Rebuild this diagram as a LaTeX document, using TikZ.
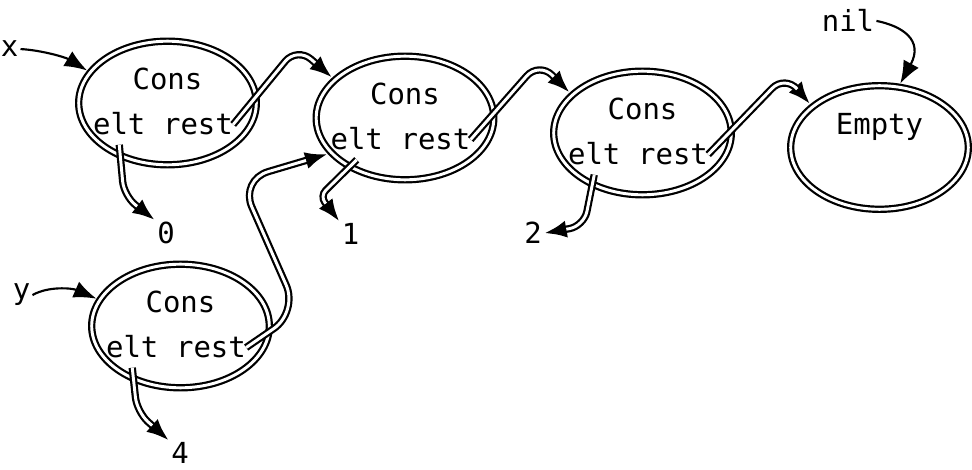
\documentclass[tikz,border=0pt]{standalone}
\usepackage{fontspec}
\setmonofont{DejaVu Sans Mono}
\usetikzlibrary{arrows.meta,shapes.geometric}
\begin{document}
\begin{tikzpicture}[x=0.75pt,y=-0.75pt,
  every node/.style={font=\ttfamily\fontsize{21.75pt}{26pt}\selectfont, inner sep=0pt},
  cell/.style={ellipse, draw, line width=1.65pt, double, double distance=2.2pt,
    minimum width=133.2pt, minimum height=92.7pt, outer sep=2.75pt},
  word/.style={anchor=base},
  eltf/.style={anchor=base, text depth=7.5pt},
  restf/.style={anchor=base, text height=15pt, text depth=0pt},
  lbl/.style={anchor=base, inner sep=1.5pt},
  ptr/.style={line width=5.5pt, rounded corners=14pt,
    -{Latex[length=17pt,width=13pt]},
    postaction={draw=white, line width=2.2pt, shorten >=17pt, -}},
  ref/.style={line width=1.6pt, -{Latex[length=17pt,width=13pt]}}]
\useasboundingbox (0,0) rectangle (972,470);
% cells
\node[cell] (A) at (167.5,103) {};
\node[cell] (B) at (405,118) {};
\node[cell] (C) at (642.5,133) {};
\node[cell] (D) at (879.5,147.5) {};
\node[cell] (E) at (180.5,326) {};
% texts
\node[word] (Ac) at (167.5,90) {Cons};
\node[eltf] (Ae) at (119.25,134.5) {elt};
\node[restf] (Ar) at (198,134.5) {rest};
\node[word] (Bc) at (405,105) {Cons};
\node[eltf] (Be) at (356.75,149.5) {elt};
\node[restf] (Br) at (435.5,149.5) {rest};
\node[word] (Cc) at (642.5,120) {Cons};
\node[eltf] (Ce) at (594.25,164.5) {elt};
\node[restf] (Cr) at (673,164.5) {rest};
\node[word] (Dt) at (879.5,134.5) {Empty};
\node[word] (Ec) at (180.5,313) {Cons};
\node[eltf] (Ee) at (132.25,357.5) {elt};
\node[restf] (Er) at (211,357.5) {rest};
% labels
\node[lbl] (lx) at (9.5,57) {x};
\node[lbl] (lnil) at (848,32) {nil};
\node[lbl] (ly) at (21.5,300) {y};
\node[lbl] (v0) at (166,244) {0};
\node[lbl] (v1) at (350.5,245) {1};
\node[lbl] (v2) at (533,244) {2};
\node[lbl] (v4) at (180,464) {4};
% variable references
\draw[ref] (lx.east) .. controls (40,50) and (65,57) .. (A.158);
\draw[ref] (ly.east) .. controls (48,286) and (72,288) .. (E.162);
\draw[ref] (lnil.east) .. controls (902,26) and (924,40) .. (D.72);
% pointers
\draw[ptr] (Ar.east) -- (297,47) -- (B.151);
\draw[ptr] (Br.east) -- (539,62) -- (C.151);
\draw[ptr] (Cr.east) -- (785,75) -- (D.148);
\draw[ptr, rounded corners=22pt] (Er.east) -- (298,312) -- (240,180) -- (B.205);
\draw[ptr, rounded corners=11pt] (Ae.south) -- (124,196) -- (v0.north west);
\draw[ptr, rounded corners=6pt] (Be.south) -- (320,196) -- (v1.north west);
\draw[ptr, rounded corners=11pt] (Ce.south) -- (584,226) -- (v2.east);
\draw[ptr, rounded corners=11pt] (Ee.south) -- (137,412) -- (v4.north west);
\end{tikzpicture}
\end{document}
